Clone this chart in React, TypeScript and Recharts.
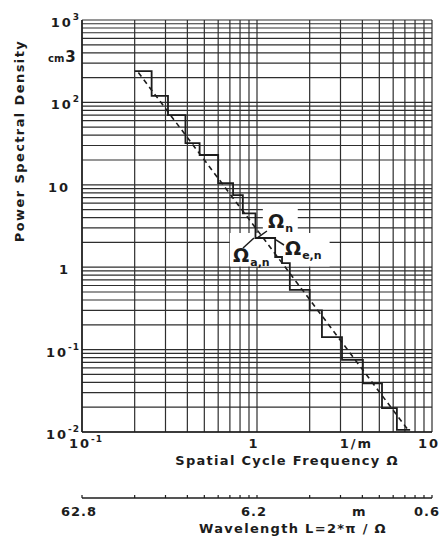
import React from 'react';
import {
  CartesianGrid,
  Label,
  Line,
  LineChart,
  ReferenceArea,
  ReferenceDot,
  ReferenceLine,
  XAxis,
  YAxis,
} from 'recharts';

// staircase of the band values (start frequency of each band, PSD level)
const stepFreq = [0.2, 0.25, 0.31, 0.39, 0.47, 0.6, 0.73, 0.83, 0.98, 1.27, 1.39, 1.54, 2.0, 2.35, 3.06, 4.03, 5.18, 6.3, 7.5];
const stepPsd = [240, 120, 70, 32, 23, 10.5, 7.5, 4.5, 2.26, 1.33, 1.12, 0.53, 0.3, 0.142, 0.075, 0.039, 0.0195, 0.0106, 0.0106];

// dashed fitted line
const trendFreq = [0.21, 7.2];
const trendPsd = [230, 0.011];

const multipliers = [1, 2, 3, 4, 5, 6, 7, 8, 9];
const xDecades = [0.1, 1];
const yDecades = [0.01, 0.1, 1, 10, 100];
const xGridTicks = [...xDecades.flatMap((d) => multipliers.map((m) => m * d)), 10];
const yGridTicks = [...yDecades.flatMap((d) => multipliers.map((m) => m * d)), 1000];

const xLabelValues = [0.1, 1, 4, 10];
const xLabelBase = ['10', '1', '1/m', '10'];
const xLabelExp = ['-1', '', '', ''];

const yLabelValues = [1000, 100, 10, 1, 0.1, 0.01];
const yLabelBase = ['10', '10', '10', '1', '10', '10'];
const yLabelExp = ['3', '2', '', '', '-1', '-2'];

const wlLabelValues = [0.1, 1, 4, 10];
const wlLabelText = ['62.8', '6.2', 'm', '0.6'];

const omegaLabels = [
  { f: 1.156, psd: 2.99, sub: 'n' },
  { f: 0.73, psd: 1.156, sub: 'a,n' },
  { f: 1.445, psd: 1.406, sub: 'e,n' },
];

const leaders = [
  [{ x: 1.14, y: 2.75 }, { x: 1.0, y: 2.26 }],
  [{ x: 0.832, y: 1.71 }, { x: 0.961, y: 2.26 }],
  [{ x: 1.426, y: 1.86 }, { x: 1.284, y: 2.14 }],
];

const labelBoxes = [
  { x1: 1.08, x2: 1.71, y1: 2.6, y2: 5.4 },
  { x1: 0.7, x2: 2.6, y1: 1.02, y2: 2.6 },
];

const stepData = stepFreq.map((f, i) => ({ f, psd: stepPsd[i] }));
const trendData = trendFreq.map((f, i) => ({ f, psd: trendPsd[i] }));

const INK = '#1c1c1c';
const FONT = '"DejaVu Sans", sans-serif';

const FreqTick = (props: any) => {
  const { x, y, payload } = props;
  const i = xLabelValues.indexOf(payload.value);
  if (i < 0) return null;
  const shift = i === 0 ? 4 : i === 2 ? -6 : -3;
  return (
    <text x={x + shift} y={y + 16} textAnchor="middle" fill={INK} fontFamily={FONT} fontWeight="bold" fontSize={13} letterSpacing={2}>
      {xLabelBase[i]}
      {xLabelExp[i] && (
        <tspan fontSize={9} dy={-6} letterSpacing={1}>
          {xLabelExp[i]}
        </tspan>
      )}
    </text>
  );
};

const PsdTick = (props: any) => {
  const { x, y, payload } = props;
  const i = yLabelValues.indexOf(payload.value);
  if (i < 0) return null;
  const hasExp = yLabelExp[i] !== '';
  return (
    <text x={x - (hasExp ? 2 : 12)} y={y + 7} textAnchor="end" fill={INK} fontFamily={FONT} fontWeight="bold" fontSize={13} letterSpacing={2}>
      {yLabelBase[i]}
      {hasExp && (
        <tspan fontSize={9} dy={-7} letterSpacing={1}>
          {yLabelExp[i]}
        </tspan>
      )}
    </text>
  );
};

const WaveTick = (props: any) => {
  const { x, y, payload } = props;
  const i = wlLabelValues.indexOf(payload.value);
  const last = i === wlLabelValues.length - 1;
  return (
    <g>
      <line x1={x} x2={x} y1={y} y2={y - 3} stroke={INK} strokeWidth={1.2} />
      {i >= 0 && (
        <text
          x={last ? x + 8 : x - 3}
          y={y + 18}
          textAnchor={last ? 'end' : 'middle'}
          fill={INK}
          fontFamily={FONT}
          fontWeight="bold"
          fontSize={13}
          letterSpacing={1}
        >
          {wlLabelText[i]}
        </text>
      )}
    </g>
  );
};

const OmegaLabel = ({ cx, cy, sub }: any) => (
  <text x={cx} y={cy} fill={INK} fontFamily={FONT} fontWeight="bold" fontSize={19}>
    Ω
    <tspan fontSize={11} dy={4} dx={1}>
      {sub}
    </tspan>
  </text>
);

const PsdTitle = (props: any) => {
  const vb = props.viewBox || { x: 0, y: 20 };
  return (
    <g fill={INK} fontFamily={FONT} fontWeight="bold">
      <text transform={`translate(${vb.x + 24}, ${vb.y + 121}) rotate(-90)`} textAnchor="middle" fontSize={13} letterSpacing={1.4}>
        Power Spectral Density
      </text>
      <text x={vb.x + 48} y={vb.y + 42}>
        <tspan fontSize={10}>cm</tspan>
        <tspan fontSize={15} dx={1}>3</tspan>
      </text>
    </g>
  );
};

const FreqTitle = (props: any) => {
  const vb = props.viewBox || { x: 82, y: 432 };
  return (
    <text x={vb.x + 205} y={vb.y + 33} textAnchor="middle" fill={INK} fontFamily={FONT} fontWeight="bold" fontSize={13} letterSpacing={1.3}>
      Spatial Cycle Frequency  Ω
    </text>
  );
};

const WaveTitle = (props: any) => {
  const vb = props.viewBox || { x: 82, y: 498 };
  return (
    <text x={vb.x + 211} y={vb.y + 35} textAnchor="middle" fill={INK} fontFamily={FONT} fontWeight="bold" fontSize={13} letterSpacing={1.3}>
      Wavelength L=2*π / Ω
    </text>
  );
};

export default function App() {
  return (
    <div style={{ position: 'absolute', left: 0, top: 0, background: '#fff' }}>
      <LineChart width={442} height={538} margin={{ top: 20, right: 10, bottom: 0, left: 0 }}>
        <CartesianGrid xAxisId="f" yAxisId="p" stroke="#2e2e2e" strokeWidth={1.2} />
        <XAxis
          xAxisId="f"
          type="number"
          dataKey="f"
          scale="log"
          domain={[0.1, 10]}
          ticks={xGridTicks}
          interval={0}
          allowDataOverflow
          height={66}
          tickSize={0}
          tickMargin={0}
          tickLine={false}
          tick={<FreqTick />}
          axisLine={{ stroke: INK, strokeWidth: 1.5 }}
        >
          <Label content={<FreqTitle />} />
        </XAxis>
        <XAxis
          xAxisId="w"
          type="number"
          dataKey="f"
          scale="log"
          domain={[0.1, 10]}
          ticks={xGridTicks}
          interval={0}
          allowDataOverflow
          height={40}
          tickSize={0}
          tickMargin={0}
          tickLine={false}
          tick={<WaveTick />}
          axisLine={{ stroke: INK, strokeWidth: 1.5 }}
        >
          <Label content={<WaveTitle />} />
        </XAxis>
        <YAxis
          yAxisId="p"
          type="number"
          scale="log"
          domain={[0.01, 1000]}
          ticks={yGridTicks}
          interval={0}
          allowDataOverflow
          width={82}
          tickSize={0}
          tickMargin={0}
          tickLine={false}
          tick={<PsdTick />}
          axisLine={{ stroke: INK, strokeWidth: 1.5 }}
        >
          <Label content={<PsdTitle />} />
        </YAxis>
        {labelBoxes.map((b, i) => (
          <ReferenceArea key={`box${i}`} xAxisId="f" yAxisId="p" {...b} fill="#fff" fillOpacity={1} stroke="none" ifOverflow="visible" />
        ))}
        <Line
          xAxisId="f"
          yAxisId="p"
          data={trendData}
          dataKey="psd"
          type="linear"
          stroke={INK}
          strokeWidth={1.6}
          strokeDasharray="5 4"
          dot={false}
          isAnimationActive={false}
        />
        <Line
          xAxisId="f"
          yAxisId="p"
          data={stepData}
          dataKey="psd"
          type="stepAfter"
          stroke={INK}
          strokeWidth={1.8}
          dot={false}
          isAnimationActive={false}
        />
        {leaders.map((seg, i) => (
          <ReferenceLine key={`lead${i}`} xAxisId="f" yAxisId="p" segment={seg} stroke={INK} strokeWidth={1.5} ifOverflow="visible" />
        ))}
        {omegaLabels.map((o, i) => (
          <ReferenceDot
            key={`om${i}`}
            xAxisId="f"
            yAxisId="p"
            x={o.f}
            y={o.psd}
            r={0}
            ifOverflow="visible"
            shape={(p: any) => <OmegaLabel cx={p.cx} cy={p.cy} sub={o.sub} />}
          />
        ))}
      </LineChart>
    </div>
  );
}
